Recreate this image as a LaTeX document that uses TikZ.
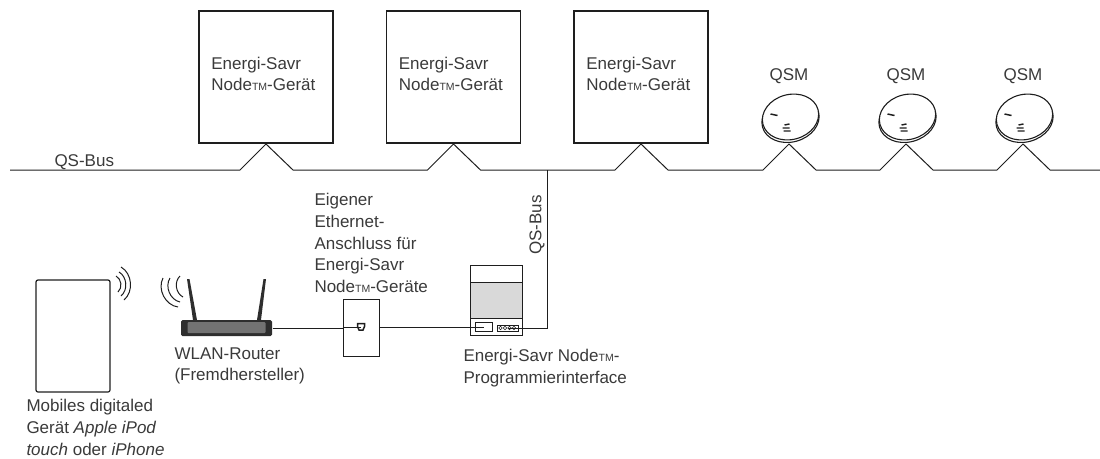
\documentclass[tikz,border=0pt]{standalone}
\usepackage{fontspec}
\setmainfont{Liberation Sans}
\usetikzlibrary{positioning,shapes.geometric}
\definecolor{txtgrey}{HTML}{3A3A3A}
\definecolor{linegrey}{HTML}{1E1E1E}
\newcommand{\tmark}{{\fontsize{10.5}{10.5}\selectfont TM}}

\begin{document}
\begin{tikzpicture}[x=1pt, y=-1pt, line width=1pt, draw=linegrey,
  devbox/.style = {draw, line width=1.2pt, minimum width=134pt, minimum height=132pt, inner sep=0pt},
  caption/.style = {text=txtgrey, inner sep=0pt, align=left, anchor=north west, font=\fontsize{17}{21.7}\selectfont},
  qsmface/.style = {draw, line width=1.1pt, ellipse, fill=white, rotate=15, minimum width=57pt, minimum height=45pt, inner sep=0pt},
  darkpart/.style = {fill=black!82, draw=none, inner sep=0pt}]
\useasboundingbox (0,0) rectangle (1100,458);

% bus
\coordinate (busL) at (10,170);
\coordinate (busR) at (1100,170);
\foreach \i/\x in {1/266,2/453.5,3/641,4/789,5/906,6/1023} {
  \coordinate (tap\i) at (\x,144);
}
\coordinate (busT) at (547,170);
\draw (busL) foreach \i in {1,...,6} {
  -- ([shift={(-26,26)}]tap\i) -- (tap\i) -- ([shift={(27,26)}]tap\i)
} -- (busR);
\node[caption] (busname) at (54,154) {QS-Bus};

% devices
\foreach \i in {1,2,3} {
  \node[devbox, above=0.5pt of tap\i] (dev\i) {};
  \node[caption, anchor=west] (devname\i) at ([shift={(12.5,-3)}]dev\i.west) {Energi-Savr\\Node\tmark-Gerät};
}

% QSM
\foreach \i in {4,5,6} {
  \node[qsmface, minimum width=58pt] (rim\i) at ([shift={(1.5,-24.5)}]tap\i) {};
  \node[qsmface] (qsm\i) at ([shift={(1.5,-27)}]tap\i) {};
  \node[caption, anchor=center] (qsmname\i) at ([yshift=68pt]tap\i) {QSM};
  \draw[line width=1.5pt] ([shift={(-20,-3)}]qsm\i.center) -- ++(7,1.5);
  \draw[line width=1.4pt] ([shift={(-6,8)}]qsm\i.center) -- ++(5,-1)
    ([shift={(-8,11)}]qsm\i.center) -- ++(7,0)
    ([shift={(-7,14)}]qsm\i.center) -- ++(7,0);
}

% tablet
\node[draw, line width=1.2pt, rounded corners=2pt, minimum width=74pt, minimum height=112pt, inner sep=0pt] (tablet) at (73,336) {};
\node[caption] (tabletname) at (26,399) {Mobiles digitaled\\Gerät \textit{Apple iPod}\\\textit{touch} oder \textit{iPhone}};
\draw (116,276) to[bend left=55] (118,292);
\draw (119,272) to[bend left=55] (121,296);
\draw (121,267) to[bend left=55] (124,300);

% router
\draw[darkpart] (187,279) -- (189.5,279) -- (197,320) -- (193,320) -- cycle;
\draw[darkpart] (263.5,279) -- (266,279) -- (261,320) -- (257,320) -- cycle;
\node[darkpart, rounded corners=1.5pt, minimum width=91pt, minimum height=16pt] (router) at (226.5,328) {};
\node[fill=black!55, draw=none, rounded corners=1pt, minimum width=78pt, minimum height=11pt, inner sep=0pt] (routerface) at (226.5,327.5) {};
\node[caption] (routername) at (174,347) {WLAN-Router\\(Fremdhersteller)};
\draw (180,276) to[bend right=55] (183,297) ;
\draw (170,278) to[bend right=55] (180,302);
\draw (163,278) to[bend right=55] (178,307);

% wall plate
\node[draw, minimum width=36pt, minimum height=57pt, inner sep=0pt] (plate) at (361,327.5) {};
\node[caption] (platename) at (314,193) {Eigener\\Ethernet-\\Anschluss für\\Energi-Savr\\Node\tmark-Geräte};
\coordinate (jack) at (361,327);
\draw[fill=white, line width=1.5pt] ([shift={(-3.5,-3.5)}]jack) -- ++(7,0) -- ++(0,3) -- ++(-1.5,3.5) -- ++(-4,0) -- ++(-1.5,-3.5) -- cycle;

% interface
\node[draw, minimum width=52pt, minimum height=70pt, inner sep=0pt] (iface) at (496,300) {};
\node[draw, fill=black!15, minimum width=52pt, minimum height=36pt, inner sep=0pt] (ifacegrey) at (496,300) {};
\node[draw, minimum width=17pt, minimum height=9pt, inner sep=0pt] (port) at (483.5,327) {};
\node[draw, minimum width=21pt, minimum height=6pt, inner sep=0pt] (terminal) at (507.5,328) {};
\foreach \x in {-7,-2.5,2,6.5} {
  \node[draw, circle, line width=0.6pt, minimum size=3.5pt, inner sep=0pt] at ([xshift=\x pt]terminal.center) {};
}
\node[caption] (ifacename) at (463,349) {Energi-Savr Node\tmark-\\Programmierinterface};
\node[caption, anchor=center, rotate=90] (dropname) at (537,225) {QS-Bus};

% ethernet
\draw (router.east) -- (router.east -| plate.west) (plate.west |- jack) -- (jack);
\draw (plate.east |- jack) -- (port.center);
\draw (terminal.center) -| (busT);
\end{tikzpicture}
\end{document}
